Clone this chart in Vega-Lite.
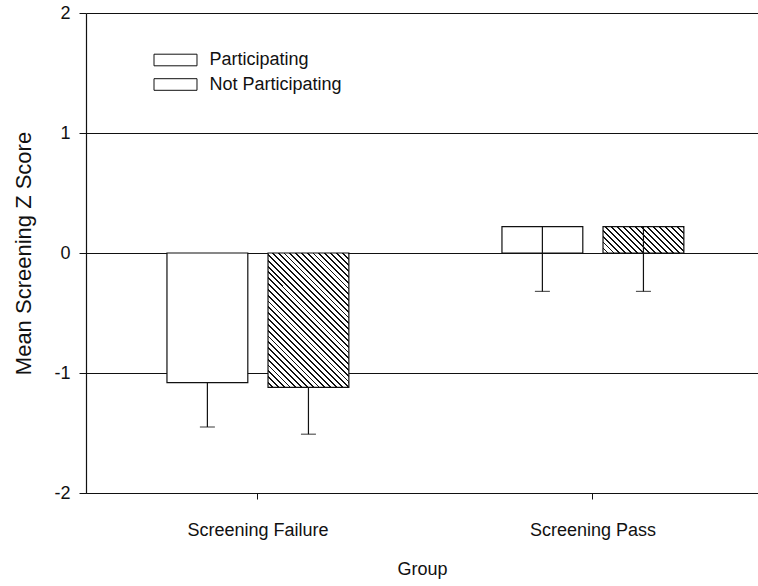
{
  "$schema": "https://vega.github.io/schema/vega-lite/v6.json",
  "width": 672,
  "height": 480,
  "autosize": {"type": "none"},
  "padding": {"left": 86, "top": 13, "right": 0, "bottom": 93},
  "background": "white",
  "config": {
    "view": {"stroke": null},
    "font": "Liberation Sans",
    "axis": {"labelColor": "#111", "titleColor": "#111", "domainColor": "#111", "tickColor": "#111", "titleFontWeight": "normal"},
    "legend": {"labelColor": "#111"}
  },
  "data": {
    "values": [
      {"group": "Screening Failure", "status": "Participating", "mean": -1.08, "lower": -1.45},
      {"group": "Screening Failure", "status": "Not Participating", "mean": -1.12, "lower": -1.51},
      {"group": "Screening Pass", "status": "Participating", "mean": 0.22, "lower": -0.32},
      {"group": "Screening Pass", "status": "Not Participating", "mean": 0.22, "lower": -0.32}
    ]
  },
  "encoding": {
    "x": {
      "field": "group",
      "type": "nominal",
      "sort": ["Screening Failure", "Screening Pass"],
      "scale": {"paddingInner": 0.457, "paddingOuter": 0.2315, "align": 0.522},
      "axis": {
        "title": "Group",
        "labelAngle": 0,
        "tickSize": 6,
        "labelFontSize": 18,
        "labelPadding": 22,
        "titleFontSize": 18,
        "titlePadding": 21,
        "domainWidth": 1.2
      }
    },
    "xOffset": {
      "field": "status",
      "type": "nominal",
      "sort": ["Participating", "Not Participating"],
      "scale": {"paddingInner": 0.2, "paddingOuter": 0}
    }
  },
  "layer": [
    {
      "mark": {"type": "bar", "stroke": "#111", "strokeWidth": 1.2},
      "encoding": {
        "y": {
          "field": "mean",
          "type": "quantitative",
          "scale": {"domain": [-2, 2], "nice": false, "zero": false},
          "axis": {
            "values": [-2, -1, 0, 1, 2],
            "labelExpr": "'' + datum.value",
            "grid": true,
            "gridColor": "#111",
            "gridOpacity": 1,
            "gridWidth": 1.2,
            "domainWidth": 1.2,
            "tickSize": 7,
            "labelFontSize": 18,
            "labelPadding": 9,
            "title": "Mean Screening Z Score",
            "titleFontSize": 22,
            "titlePadding": 18
          }
        },
        "y2": {"datum": 0},
        "fill": {
          "field": "status",
          "type": "nominal",
          "sort": ["Participating", "Not Participating"],
          "condition": [
            {
              "test": "datum.status === 'Not Participating' && datum.group === 'Screening Failure'",
              "value": {
                "gradient": "linear",
                "x1": 0, "y1": 1, "x2": 0.708, "y2": -0.176,
                "stops": [
                  {"offset": 0, "color": "white"}, {"offset": 0.0184, "color": "white"}, {"offset": 0.0184, "color": "#111"}, {"offset": 0.0270, "color": "#111"},
                  {"offset": 0.0270, "color": "white"}, {"offset": 0.0454, "color": "white"}, {"offset": 0.0454, "color": "#111"}, {"offset": 0.0541, "color": "#111"},
                  {"offset": 0.0541, "color": "white"}, {"offset": 0.0724, "color": "white"}, {"offset": 0.0724, "color": "#111"}, {"offset": 0.0811, "color": "#111"},
                  {"offset": 0.0811, "color": "white"}, {"offset": 0.0995, "color": "white"}, {"offset": 0.0995, "color": "#111"}, {"offset": 0.1081, "color": "#111"},
                  {"offset": 0.1081, "color": "white"}, {"offset": 0.1265, "color": "white"}, {"offset": 0.1265, "color": "#111"}, {"offset": 0.1351, "color": "#111"},
                  {"offset": 0.1351, "color": "white"}, {"offset": 0.1535, "color": "white"}, {"offset": 0.1535, "color": "#111"}, {"offset": 0.1622, "color": "#111"},
                  {"offset": 0.1622, "color": "white"}, {"offset": 0.1805, "color": "white"}, {"offset": 0.1805, "color": "#111"}, {"offset": 0.1892, "color": "#111"},
                  {"offset": 0.1892, "color": "white"}, {"offset": 0.2076, "color": "white"}, {"offset": 0.2076, "color": "#111"}, {"offset": 0.2162, "color": "#111"},
                  {"offset": 0.2162, "color": "white"}, {"offset": 0.2346, "color": "white"}, {"offset": 0.2346, "color": "#111"}, {"offset": 0.2432, "color": "#111"},
                  {"offset": 0.2432, "color": "white"}, {"offset": 0.2616, "color": "white"}, {"offset": 0.2616, "color": "#111"}, {"offset": 0.2703, "color": "#111"},
                  {"offset": 0.2703, "color": "white"}, {"offset": 0.2886, "color": "white"}, {"offset": 0.2886, "color": "#111"}, {"offset": 0.2973, "color": "#111"},
                  {"offset": 0.2973, "color": "white"}, {"offset": 0.3157, "color": "white"}, {"offset": 0.3157, "color": "#111"}, {"offset": 0.3243, "color": "#111"},
                  {"offset": 0.3243, "color": "white"}, {"offset": 0.3427, "color": "white"}, {"offset": 0.3427, "color": "#111"}, {"offset": 0.3514, "color": "#111"},
                  {"offset": 0.3514, "color": "white"}, {"offset": 0.3697, "color": "white"}, {"offset": 0.3697, "color": "#111"}, {"offset": 0.3784, "color": "#111"},
                  {"offset": 0.3784, "color": "white"}, {"offset": 0.3968, "color": "white"}, {"offset": 0.3968, "color": "#111"}, {"offset": 0.4054, "color": "#111"},
                  {"offset": 0.4054, "color": "white"}, {"offset": 0.4238, "color": "white"}, {"offset": 0.4238, "color": "#111"}, {"offset": 0.4324, "color": "#111"},
                  {"offset": 0.4324, "color": "white"}, {"offset": 0.4508, "color": "white"}, {"offset": 0.4508, "color": "#111"}, {"offset": 0.4595, "color": "#111"},
                  {"offset": 0.4595, "color": "white"}, {"offset": 0.4778, "color": "white"}, {"offset": 0.4778, "color": "#111"}, {"offset": 0.4865, "color": "#111"},
                  {"offset": 0.4865, "color": "white"}, {"offset": 0.5049, "color": "white"}, {"offset": 0.5049, "color": "#111"}, {"offset": 0.5135, "color": "#111"},
                  {"offset": 0.5135, "color": "white"}, {"offset": 0.5319, "color": "white"}, {"offset": 0.5319, "color": "#111"}, {"offset": 0.5405, "color": "#111"},
                  {"offset": 0.5405, "color": "white"}, {"offset": 0.5589, "color": "white"}, {"offset": 0.5589, "color": "#111"}, {"offset": 0.5676, "color": "#111"},
                  {"offset": 0.5676, "color": "white"}, {"offset": 0.5859, "color": "white"}, {"offset": 0.5859, "color": "#111"}, {"offset": 0.5946, "color": "#111"},
                  {"offset": 0.5946, "color": "white"}, {"offset": 0.6130, "color": "white"}, {"offset": 0.6130, "color": "#111"}, {"offset": 0.6216, "color": "#111"},
                  {"offset": 0.6216, "color": "white"}, {"offset": 0.6400, "color": "white"}, {"offset": 0.6400, "color": "#111"}, {"offset": 0.6486, "color": "#111"},
                  {"offset": 0.6486, "color": "white"}, {"offset": 0.6670, "color": "white"}, {"offset": 0.6670, "color": "#111"}, {"offset": 0.6757, "color": "#111"},
                  {"offset": 0.6757, "color": "white"}, {"offset": 0.6941, "color": "white"}, {"offset": 0.6941, "color": "#111"}, {"offset": 0.7027, "color": "#111"},
                  {"offset": 0.7027, "color": "white"}, {"offset": 0.7211, "color": "white"}, {"offset": 0.7211, "color": "#111"}, {"offset": 0.7297, "color": "#111"},
                  {"offset": 0.7297, "color": "white"}, {"offset": 0.7481, "color": "white"}, {"offset": 0.7481, "color": "#111"}, {"offset": 0.7568, "color": "#111"},
                  {"offset": 0.7568, "color": "white"}, {"offset": 0.7751, "color": "white"}, {"offset": 0.7751, "color": "#111"}, {"offset": 0.7838, "color": "#111"},
                  {"offset": 0.7838, "color": "white"}, {"offset": 0.8022, "color": "white"}, {"offset": 0.8022, "color": "#111"}, {"offset": 0.8108, "color": "#111"},
                  {"offset": 0.8108, "color": "white"}, {"offset": 0.8292, "color": "white"}, {"offset": 0.8292, "color": "#111"}, {"offset": 0.8378, "color": "#111"},
                  {"offset": 0.8378, "color": "white"}, {"offset": 0.8562, "color": "white"}, {"offset": 0.8562, "color": "#111"}, {"offset": 0.8649, "color": "#111"},
                  {"offset": 0.8649, "color": "white"}, {"offset": 0.8832, "color": "white"}, {"offset": 0.8832, "color": "#111"}, {"offset": 0.8919, "color": "#111"},
                  {"offset": 0.8919, "color": "white"}, {"offset": 0.9103, "color": "white"}, {"offset": 0.9103, "color": "#111"}, {"offset": 0.9189, "color": "#111"},
                  {"offset": 0.9189, "color": "white"}, {"offset": 0.9373, "color": "white"}, {"offset": 0.9373, "color": "#111"}, {"offset": 0.9459, "color": "#111"},
                  {"offset": 0.9459, "color": "white"}, {"offset": 0.9643, "color": "white"}, {"offset": 0.9643, "color": "#111"}, {"offset": 0.9730, "color": "#111"},
                  {"offset": 0.9730, "color": "white"}, {"offset": 0.9914, "color": "white"}, {"offset": 0.9914, "color": "#111"}, {"offset": 1, "color": "#111"}
                ]
              }
            },
            {
              "test": "datum.status === 'Not Participating' && datum.group === 'Screening Pass'",
              "value": {
                "gradient": "linear",
                "x1": 0, "y1": 1, "x2": 1.1987, "y2": 0.6089,
                "stops": [
                  {"offset": 0, "color": "white"}, {"offset": 0.0378, "color": "white"}, {"offset": 0.0378, "color": "#111"}, {"offset": 0.0556, "color": "#111"},
                  {"offset": 0.0556, "color": "white"}, {"offset": 0.0933, "color": "white"}, {"offset": 0.0933, "color": "#111"}, {"offset": 0.1111, "color": "#111"},
                  {"offset": 0.1111, "color": "white"}, {"offset": 0.1489, "color": "white"}, {"offset": 0.1489, "color": "#111"}, {"offset": 0.1667, "color": "#111"},
                  {"offset": 0.1667, "color": "white"}, {"offset": 0.2044, "color": "white"}, {"offset": 0.2044, "color": "#111"}, {"offset": 0.2222, "color": "#111"},
                  {"offset": 0.2222, "color": "white"}, {"offset": 0.2600, "color": "white"}, {"offset": 0.2600, "color": "#111"}, {"offset": 0.2778, "color": "#111"},
                  {"offset": 0.2778, "color": "white"}, {"offset": 0.3156, "color": "white"}, {"offset": 0.3156, "color": "#111"}, {"offset": 0.3333, "color": "#111"},
                  {"offset": 0.3333, "color": "white"}, {"offset": 0.3711, "color": "white"}, {"offset": 0.3711, "color": "#111"}, {"offset": 0.3889, "color": "#111"},
                  {"offset": 0.3889, "color": "white"}, {"offset": 0.4267, "color": "white"}, {"offset": 0.4267, "color": "#111"}, {"offset": 0.4444, "color": "#111"},
                  {"offset": 0.4444, "color": "white"}, {"offset": 0.4822, "color": "white"}, {"offset": 0.4822, "color": "#111"}, {"offset": 0.5, "color": "#111"},
                  {"offset": 0.5, "color": "white"}, {"offset": 0.5378, "color": "white"}, {"offset": 0.5378, "color": "#111"}, {"offset": 0.5556, "color": "#111"},
                  {"offset": 0.5556, "color": "white"}, {"offset": 0.5933, "color": "white"}, {"offset": 0.5933, "color": "#111"}, {"offset": 0.6111, "color": "#111"},
                  {"offset": 0.6111, "color": "white"}, {"offset": 0.6489, "color": "white"}, {"offset": 0.6489, "color": "#111"}, {"offset": 0.6667, "color": "#111"},
                  {"offset": 0.6667, "color": "white"}, {"offset": 0.7044, "color": "white"}, {"offset": 0.7044, "color": "#111"}, {"offset": 0.7222, "color": "#111"},
                  {"offset": 0.7222, "color": "white"}, {"offset": 0.7600, "color": "white"}, {"offset": 0.7600, "color": "#111"}, {"offset": 0.7778, "color": "#111"},
                  {"offset": 0.7778, "color": "white"}, {"offset": 0.8156, "color": "white"}, {"offset": 0.8156, "color": "#111"}, {"offset": 0.8333, "color": "#111"},
                  {"offset": 0.8333, "color": "white"}, {"offset": 0.8711, "color": "white"}, {"offset": 0.8711, "color": "#111"}, {"offset": 0.8889, "color": "#111"},
                  {"offset": 0.8889, "color": "white"}, {"offset": 0.9267, "color": "white"}, {"offset": 0.9267, "color": "#111"}, {"offset": 0.9444, "color": "#111"},
                  {"offset": 0.9444, "color": "white"}, {"offset": 0.9822, "color": "white"}, {"offset": 0.9822, "color": "#111"}, {"offset": 1, "color": "#111"}
                ]
              }
            }
          ],
          "scale": {"domain": ["Participating", "Not Participating"], "range": ["white", "white"]},
          "legend": {
            "title": null,
            "orient": "none",
            "legendX": 78,
            "legendY": 35.5,
            "padding": 0,
            "symbolType": "M-2,-0.54H2V0.54H-2Z",
            "symbolSize": 462,
            "symbolStrokeColor": "#111",
            "symbolStrokeWidth": 1,
            "labelFontSize": 18,
            "labelOffset": 22.5,
            "rowPadding": 3.5,
            "encode": {
              "symbols": {
                "update": {
                  "fill": {
                    "signal": "datum.value === 'Not Participating' ? {gradient: 'linear', x1: 0, y1: 1, x2: 1.1837, y2: 0.6804, stops: [{offset: 0, color: 'white'}, {offset: 0.0756, color: 'white'}, {offset: 0.0756, color: '#111'}, {offset: 0.1111, color: '#111'}, {offset: 0.1111, color: 'white'}, {offset: 0.1867, color: 'white'}, {offset: 0.1867, color: '#111'}, {offset: 0.2222, color: '#111'}, {offset: 0.2222, color: 'white'}, {offset: 0.2978, color: 'white'}, {offset: 0.2978, color: '#111'}, {offset: 0.3333, color: '#111'}, {offset: 0.3333, color: 'white'}, {offset: 0.4089, color: 'white'}, {offset: 0.4089, color: '#111'}, {offset: 0.4444, color: '#111'}, {offset: 0.4444, color: 'white'}, {offset: 0.52, color: 'white'}, {offset: 0.52, color: '#111'}, {offset: 0.5556, color: '#111'}, {offset: 0.5556, color: 'white'}, {offset: 0.6311, color: 'white'}, {offset: 0.6311, color: '#111'}, {offset: 0.6667, color: '#111'}, {offset: 0.6667, color: 'white'}, {offset: 0.7422, color: 'white'}, {offset: 0.7422, color: '#111'}, {offset: 0.7778, color: '#111'}, {offset: 0.7778, color: 'white'}, {offset: 0.8533, color: 'white'}, {offset: 0.8533, color: '#111'}, {offset: 0.8889, color: '#111'}, {offset: 0.8889, color: 'white'}, {offset: 0.9644, color: 'white'}, {offset: 0.9644, color: '#111'}, {offset: 1, color: '#111'}]} : 'white'"
                  },
                  "stroke": {"value": "#111"},
                  "strokeWidth": {"value": 1},
                  "opacity": {"value": 1}
                }
              }
            }
          }
        }
      }
    },
    {
      "mark": {"type": "rule", "stroke": "#111", "strokeWidth": 1.2},
      "encoding": {
        "y": {"field": "mean", "type": "quantitative"},
        "y2": {"field": "lower"}
      }
    },
    {
      "mark": {"type": "tick", "color": "#111", "size": 15, "thickness": 1.2, "orient": "horizontal"},
      "encoding": {
        "y": {"field": "lower", "type": "quantitative"}
      }
    }
  ]
}
